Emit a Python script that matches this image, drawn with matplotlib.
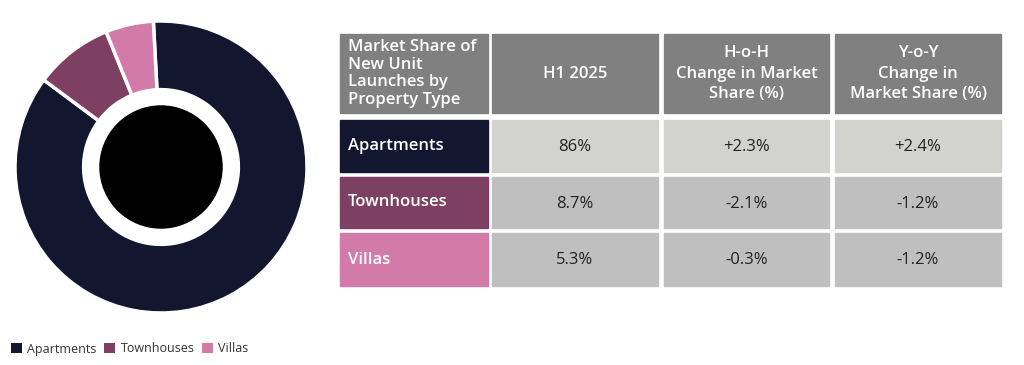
import matplotlib.pyplot as plt
from matplotlib.patches import Rectangle, Circle

plt.rcParams["font.family"] = ["Open Sans", "DejaVu Sans"]

# data
types = ["Apartments", "Townhouses", "Villas"]
share = [86.0, 8.7, 5.3]
type_colors = ["#12162f", "#7e4062", "#d27aa8"]
headers = ["Market Share of\nNew Unit\nLaunches by\nProperty Type", "H1 2025",
           "H-o-H\nChange in Market\nShare (%)", "Y-o-Y\nChange in\nMarket Share (%)"]
h1_2025 = ["86%", "8.7%", "5.3%"]
hoh_change = ["+2.3%", "-2.1%", "-0.3%"]
yoy_change = ["+2.4%", "-1.2%", "-1.2%"]

W, H = 1024, 365
fig = plt.figure(figsize=(W / 100, H / 100), dpi=100)

# donut
cx, cy, r = 161, 167, 146
pax = fig.add_axes([(cx - r) / W, (H - cy - r) / H, 2 * r / W, 2 * r / H])
wedges, _ = pax.pie(share, colors=type_colors, startangle=93, counterclock=False,
                    radius=1.0, wedgeprops=dict(width=0.47, edgecolor="white", linewidth=2.5))
pax.add_patch(Circle((0, 0), 0.418, color="black", zorder=3))
pax.set_xlim(-1.0, 1.0)
pax.set_ylim(-1.0, 1.0)
pax.set_aspect("equal")
pax.axis("off")

# legend with plain square swatches (no white wedge edge)
handles = [Rectangle((0, 0), 1, 1, facecolor=c, edgecolor="none") for c in type_colors]
fig.legend(handles, types, ncol=3, loc="center left", bbox_to_anchor=(0.006, 1 - 349 / H),
           frameon=False, fontsize=9, handlelength=0.85, handleheight=0.85,
           handletextpad=0.45, columnspacing=0.6, borderaxespad=0, labelcolor="#333333")

# table
tax = fig.add_axes([0, 0, 1, 1])
tax.set_xlim(0, W)
tax.set_ylim(H, 0)
tax.axis("off")

col_x = [(340, 488), (492, 658), (664, 829), (835, 1001)]
row_y = [(34, 113), (120, 172), (177, 228), (233, 286)]
header_bg = "#808080"
value_bg = ["#d2d2cf", "#bfbfbf", "#bfbfbf"]

for j, (x0, x1) in enumerate(col_x):
    y0, y1 = row_y[0]
    tax.add_patch(Rectangle((x0, y0), x1 - x0, y1 - y0, color=header_bg))
    if j == 0:
        tax.text(x0 + 8, (y0 + y1) / 2, headers[j], ha="left", va="center",
                 color="white", fontsize=12, fontweight="semibold", linespacing=1.15)
    else:
        tax.text((x0 + x1) / 2, (y0 + y1) / 2, headers[j], ha="center", va="center",
                 color="white", fontsize=12, fontweight="semibold", linespacing=1.35)

columns = [h1_2025, hoh_change, yoy_change]
for i, name in enumerate(types):
    y0, y1 = row_y[i + 1]
    x0, x1 = col_x[0]
    tax.add_patch(Rectangle((x0, y0), x1 - x0, y1 - y0, color=type_colors[i]))
    tax.text(x0 + 8, (y0 + y1) / 2, name, ha="left", va="center",
             color="white", fontsize=12, fontweight="semibold")
    for j, vals in enumerate(columns):
        x0, x1 = col_x[j + 1]
        tax.add_patch(Rectangle((x0, y0), x1 - x0, y1 - y0, color=value_bg[i]))
        tax.text((x0 + x1) / 2, (y0 + y1) / 2 + 1, vals[i], ha="center", va="center",
                 color="#222222", fontsize=12, fontweight="medium")

fig.savefig("out.png", dpi=100)
